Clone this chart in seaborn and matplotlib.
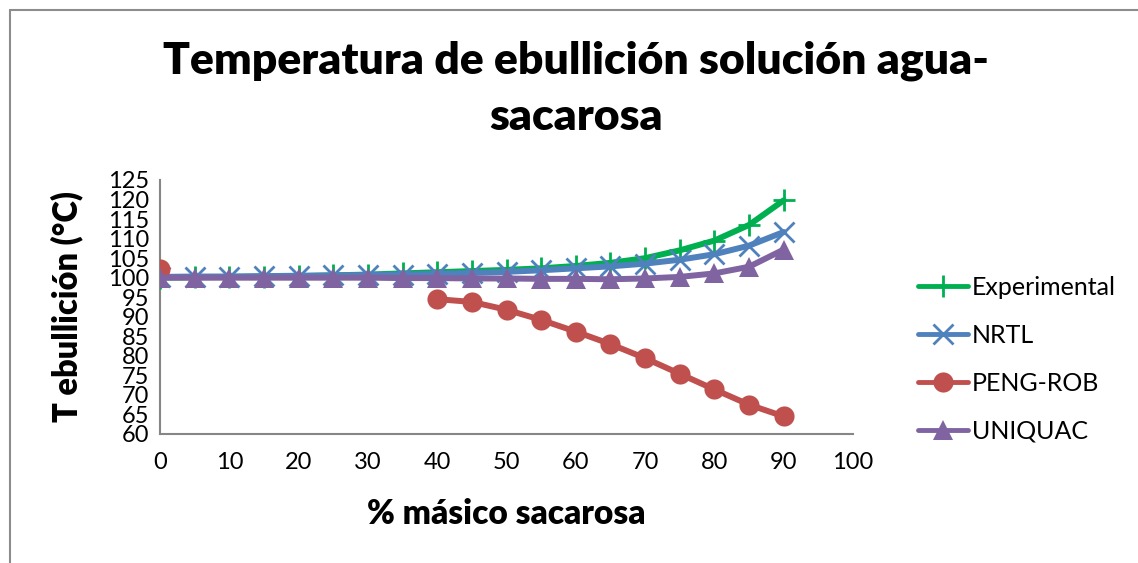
import numpy as np
import pandas as pd
import seaborn as sns
import matplotlib
matplotlib.use('Agg')
import matplotlib.pyplot as plt
from matplotlib.lines import Line2D

# Data
masico = [0, 5, 10, 15, 20, 25, 30, 35, 40, 45, 50, 55, 60, 65, 70, 75, 80, 85, 90]
experimental = [100.0, 100.1, 100.2, 100.3, 100.4, 100.6, 100.8, 101.1, 101.4, 101.7,
                102.0, 102.4, 103.0, 103.8, 105.0, 107.0, 109.5, 113.5, 119.8]
nrtl = [100.2, 100.3, 100.3, 100.4, 100.5, 100.6, 100.7, 100.8, 101.0, 101.2,
        101.5, 101.9, 102.4, 102.9, 103.6, 104.6, 106.0, 108.2, 111.7]
peng_rob = [102.2, np.nan, np.nan, np.nan, np.nan, np.nan, np.nan, np.nan, 94.5, 93.8,
            91.8, 89.2, 86.2, 83.0, 79.4, 75.4, 71.4, 67.5, 64.5]
uniquac = [100.0, 100.0, 100.0, 100.0, 100.0, 100.0, 100.0, 99.9, 99.9, 99.8,
           99.8, 99.7, 99.7, 99.6, 99.8, 100.2, 101.1, 102.8, 107.2]

series_names = ['Experimental', 'NRTL', 'PENG-ROB', 'UNIQUAC']
series_values = [experimental, nrtl, peng_rob, uniquac]
x_ticks = list(range(0, 101, 10))
y_ticks = list(range(60, 126, 5))

colors = ['#00B050', '#4F81BD', '#C0504D', '#8064A2']
markers = ['+', 'x', 'o', '^']
marker_sizes = [16, 14, 14.5, 14]

sns.set_style('white')
plt.rcParams['font.family'] = ['Lato', 'DejaVu Sans']
plt.rcParams['text.color'] = 'black'
plt.rcParams['axes.labelcolor'] = 'black'
plt.rcParams['xtick.color'] = 'black'
plt.rcParams['ytick.color'] = 'black'

fig = plt.figure(figsize=(11.38, 5.63), dpi=100)
ax = fig.add_axes([160 / 1138, 1 - 434 / 563, (853 - 160) / 1138, (434 - 180) / 563])

for i, (name, vals) in enumerate(zip(series_names, series_values)):
    df = pd.DataFrame({'x': masico, 'y': vals})
    # split into contiguous runs so gaps are not joined
    run_id = df['y'].isna().cumsum()
    df = df.dropna()
    run_id = run_id[df.index]
    for rid, part in df.groupby(run_id):
        sns.lineplot(data=part, x='x', y='y', ax=ax, color=colors[i], lw=4.3,
                     marker=markers[i], markersize=marker_sizes[i],
                     markeredgewidth=2 if markers[i] in ['+', 'x'] else 0,
                     markeredgecolor=colors[i], solid_capstyle='round',
                     zorder=3 + i, legend=False)

ax.set_xlim(0, 100)
ax.set_ylim(60, 125)
ax.set_xticks(x_ticks)
ax.set_yticks(y_ticks)
ax.tick_params(axis='both', labelsize=17, length=6, width=1.5, color='#868686',
               labelcolor='black', direction='out', pad=2)
ax.tick_params(axis='x', pad=7)
for side in ['top', 'right']:
    ax.spines[side].set_visible(False)
for side in ['left', 'bottom']:
    ax.spines[side].set_color('#868686')
    ax.spines[side].set_linewidth(1.5)

ax.set_xlabel('% másico sacarosa', fontsize=24, fontweight='heavy')
ax.set_ylabel('T ebullición (°C)', fontsize=23.5, fontweight='heavy')
ax.xaxis.set_label_coords(0.5, -(514 - 434) / 254, transform=ax.transAxes)
ax.yaxis.set_label_coords(-(160 - 67) / 693, 0.5, transform=ax.transAxes)
ax.xaxis.label.set_va('center')
ax.yaxis.label.set_va('center')

fig.text(576 / 1138, 1 - 89 / 563, 'Temperatura de ebullición solución agua-\nsacarosa',
         ha='center', va='center', fontsize=32, fontweight='heavy', linespacing=1.5)

handles = [Line2D([0], [0], color=c, lw=3.5, marker=m, markersize=s,
                  markeredgewidth=2 if m in ['+', 'x'] else 0, markeredgecolor=c,
                  solid_capstyle='round')
           for c, m, s in zip(colors, markers, marker_sizes)]
fig.legend(handles, series_names, loc='upper left',
           bbox_to_anchor=(908 / 1138, 1 - 266 / 563), frameon=False,
           fontsize=18, handlelength=2.0, handletextpad=0.15, labelspacing=1.0,
           borderaxespad=0)

# chart frame (Excel style)
fig.add_artist(Line2D([9.5 / 1138, 9.5 / 1138], [0, 1 - 9.5 / 563],
                      color='#8c8c8c', lw=1.5, transform=fig.transFigure))
fig.add_artist(Line2D([9.5 / 1138, 1], [1 - 9.5 / 563, 1 - 9.5 / 563],
                      color='#8c8c8c', lw=1.5, transform=fig.transFigure))

fig.savefig('out.png', dpi=100)
